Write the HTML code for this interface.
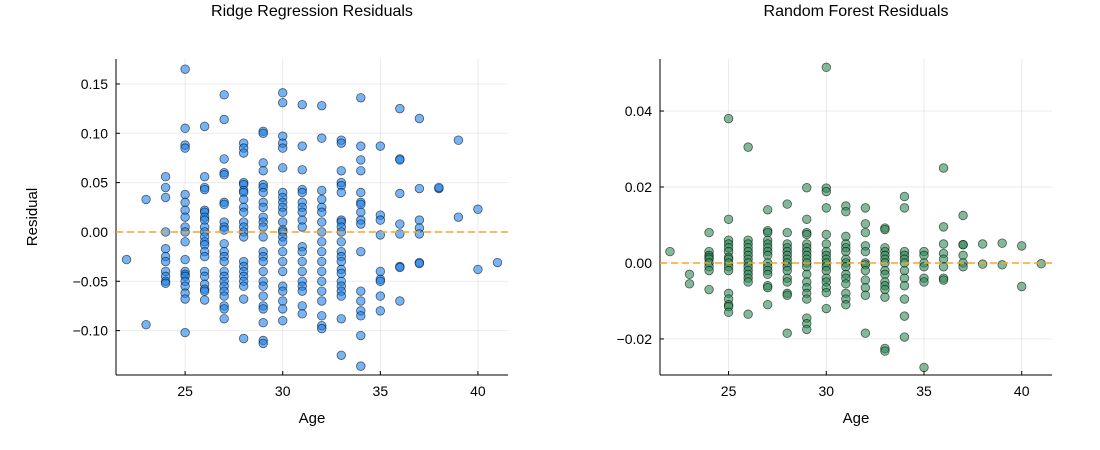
<!DOCTYPE html>
<html><head><meta charset="utf-8"><style>
body{margin:0;background:#fff;}
svg{display:block;font-family:"Liberation Sans",sans-serif;}
</style></head><body>
<svg id="chart" width="1100" height="450"></svg>
<script>
const ages = [22,23,24,25,26,27,28,29,30,31,32,33,34,35,36,37,38,39,40,41];
const ridgeResiduals = [
[-0.028],
[0.033,-0.094],
[0.056,0.045,0.035,0.0,-0.017,-0.025,-0.03,-0.04,-0.045,-0.05,-0.052],
[0.165,0.105,0.088,0.085,0.038,0.03,0.022,0.015,0.005,0.0,-0.01,-0.028,-0.04,-0.043,-0.045,-0.05,-0.055,-0.062,-0.068,-0.102],
[0.107,0.056,0.045,0.043,0.022,0.02,0.015,0.012,0.005,0.0,-0.005,-0.01,-0.013,-0.02,-0.025,-0.04,-0.045,-0.053,-0.058,-0.06,-0.069],
[0.139,0.114,0.074,0.06,0.058,0.03,0.028,0.01,0.005,0.002,-0.012,-0.02,-0.025,-0.03,-0.04,-0.045,-0.05,-0.055,-0.06,-0.065,-0.075,-0.078,-0.088],
[0.09,0.085,0.08,0.05,0.048,0.042,0.04,0.033,0.025,0.02,0.01,0.005,0.0,-0.005,-0.03,-0.035,-0.04,-0.045,-0.05,-0.055,-0.068,-0.108],
[0.102,0.1,0.07,0.062,0.048,0.045,0.04,0.03,0.025,0.015,0.01,0.005,-0.005,-0.02,-0.025,-0.03,-0.04,-0.05,-0.055,-0.065,-0.075,-0.078,-0.092,-0.11,-0.113],
[0.141,0.131,0.097,0.09,0.085,0.065,0.04,0.035,0.03,0.025,0.02,0.01,0.002,0.0,-0.005,-0.01,-0.02,-0.03,-0.04,-0.055,-0.06,-0.07,-0.078,-0.09],
[0.129,0.087,0.063,0.043,0.04,0.03,0.025,0.02,0.012,0.005,-0.015,-0.02,-0.03,-0.04,-0.05,-0.055,-0.06,-0.075,-0.083],
[0.128,0.095,0.042,0.033,0.025,0.02,0.01,0.0,-0.01,-0.02,-0.03,-0.04,-0.05,-0.06,-0.07,-0.085,-0.095,-0.098],
[0.093,0.09,0.062,0.05,0.047,0.04,0.012,0.01,0.005,0.0,-0.01,-0.02,-0.025,-0.03,-0.038,-0.042,-0.05,-0.055,-0.06,-0.065,-0.088,-0.125],
[0.136,0.087,0.073,0.062,0.04,0.03,0.028,0.02,0.012,0.008,-0.02,-0.06,-0.07,-0.08,-0.085,-0.105,-0.136],
[0.087,0.017,0.012,-0.003,-0.04,-0.048,-0.05,-0.065,-0.08],
[0.125,0.074,0.073,0.039,0.008,-0.002,-0.035,-0.036,-0.07],
[0.115,0.044,0.012,0.004,-0.002,-0.031,-0.032],
[0.044,0.045],
[0.093,0.015],
[0.023,-0.038],
[-0.031]
];
const rfResiduals = [
[0.003],
[-0.003,-0.0055],
[0.008,0.003,0.002,0.0015,0.001,0.0,-0.001,-0.002,-0.007],
[0.038,0.0115,0.006,0.005,0.004,0.003,0.0015,0.001,0.0,-0.001,-0.002,-0.008,-0.0095,-0.011,-0.0115,-0.013],
[0.0305,0.006,0.005,0.004,0.003,0.002,0.001,0.0,-0.001,-0.002,-0.003,-0.004,-0.005,-0.0135],
[0.014,0.0085,0.008,0.006,0.005,0.004,0.003,0.002,0.0,-0.001,-0.002,-0.003,-0.006,-0.0065,-0.011],
[0.0155,0.008,0.005,0.004,0.003,0.002,0.001,0.0,-0.001,-0.002,-0.004,-0.005,-0.008,-0.0085,-0.0185],
[0.0198,0.0115,0.008,0.0075,0.005,0.004,0.003,0.002,0.001,0.0,-0.001,-0.003,-0.005,-0.0065,-0.008,-0.0095,-0.0145,-0.016,-0.0175],
[0.0515,0.0197,0.0188,0.0145,0.0075,0.005,0.003,0.002,0.001,0.0,-0.001,-0.002,-0.004,-0.005,-0.0065,-0.0078,-0.012],
[0.015,0.0135,0.007,0.005,0.004,0.003,0.001,0.0,-0.001,-0.003,-0.004,-0.0055,-0.008,-0.0095,-0.011],
[0.0145,0.0103,0.008,0.0045,0.003,0.0,-0.0005,-0.002,-0.0045,-0.0065,-0.0085,-0.0185],
[0.0092,0.0088,0.004,0.003,0.002,0.001,0.0,-0.002,-0.003,-0.005,-0.006,-0.007,-0.009,-0.0225,-0.0232],
[0.0175,0.0145,0.003,0.002,0.001,0.0,-0.002,-0.004,-0.006,-0.0095,-0.014,-0.0195],
[0.003,0.002,0.0,-0.001,-0.004,-0.005,-0.0275],
[0.025,0.0095,0.005,0.0025,0.001,-0.001,-0.004,-0.0045],
[0.0125,0.0048,0.0048,0.002,0.0,-0.001],
[0.005,-0.0003],
[0.0052,-0.0005],
[0.0045,-0.0062],
[-0.0002]
];
const xTicks = [25,30,35,40];
const ridgeYTicks = [0.15,0.10,0.05,0.00,-0.05,-0.10];
const ridgeYLabels = ["0.15","0.10","0.05","0.00","−0.05","−0.10"];
const rfYTicks = [0.04,0.02,0.00,-0.02];
const rfYLabels = ["0.04","0.02","0.00","−0.02"];

const NS="http://www.w3.org/2000/svg";
const svg=document.getElementById('chart');
function mk(tag,attrs,parent){const e=document.createElementNS(NS,tag);for(const k in attrs)e.setAttribute(k,attrs[k]);(parent||svg).appendChild(e);return e;}

function panel(cfg){
  const g=mk('g',{});
  
  
  const L=cfg.left,R=cfg.right,T=59,B=375;
  const xs=v=>L+(v-cfg.xmin)/(cfg.xmax-cfg.xmin)*(R-L);
  const ys=v=>B-(v-cfg.ymin)/(cfg.ymax-cfg.ymin)*(B-T);
  xTicks.forEach(t=>{
    const l=mk('line',{x1:xs(t),x2:xs(t),y1:T,y2:B,stroke:'#000','stroke-opacity':0.08,'stroke-width':1},g);
    
    
    const tk=mk('line',{x1:xs(t),x2:xs(t),y1:B,y2:B-4,stroke:'#000','stroke-width':1},g);
    const tx=mk('text',{x:xs(t),y:B+21,'text-anchor':'middle','font-size':14,fill:'#000'},g);
    tx.textContent=t;
    
    
  });
  cfg.yticks.forEach((t,i)=>{
    mk('line',{x1:L,x2:R,y1:ys(t),y2:ys(t),stroke:'#000','stroke-opacity':0.08,'stroke-width':1},g);
    mk('line',{x1:L,x2:L+4,y1:ys(t),y2:ys(t),stroke:'#000','stroke-width':1},g);
    const tx=mk('text',{x:L-8,y:ys(t)+5,'text-anchor':'end','font-size':14,fill:'#000'},g);
    tx.textContent=cfg.ylabels[i];
    
    
  });
  mk('line',{x1:L,x2:L,y1:T,y2:B,stroke:'#000','stroke-width':1},g);
  mk('line',{x1:L,x2:R,y1:B,y2:B,stroke:'#000','stroke-width':1},g);
  ages.forEach((a,i)=>{
    cfg.data[i].forEach(v=>{
      const c=mk('circle',{cx:xs(a),cy:ys(v),r:4.3,fill:cfg.color,'fill-opacity':0.6,stroke:'#000','stroke-opacity':0.6,'stroke-width':0.8},g);
      
      
    });
  });
  const z=mk('line',{x1:L,x2:R,y1:ys(0),y2:ys(0),stroke:'#f5a623','stroke-width':1.5,'stroke-dasharray':'7,4'},g);
  
  
  const ti=mk('text',{x:(L+R)/2,y:16,'text-anchor':'middle','font-size':16,fill:'#000'},g);
  ti.textContent=cfg.title;
  
  
  const xl=mk('text',{x:(L+R)/2,y:423,'text-anchor':'middle','font-size':15,fill:'#000'},g);
  xl.textContent='Age';
  
  
  if(cfg.ylabel){
    const yl=mk('text',{x:0,y:0,'text-anchor':'middle','font-size':15,fill:'#000',transform:`translate(37,${(T+B)/2}) rotate(-90)`},g);
    yl.textContent=cfg.ylabel;
    
    
  }
}
panel({name:'ridge-panel',left:116,right:508,xmin:21.46,xmax:41.54,ymin:-0.1450,ymax:0.1753,yticks:ridgeYTicks,ylabels:ridgeYLabels,data:ridgeResiduals,color:'#1a82ee',title:'Ridge Regression Residuals',ylabel:'Residual'});
panel({name:'rf-panel',left:660,right:1052,xmin:21.49,xmax:41.55,ymin:-0.0295,ymax:0.0537,yticks:rfYTicks,ylabels:rfYLabels,data:rfResiduals,color:'#2e8b57',title:'Random Forest Residuals'});
</script>
</body></html>
